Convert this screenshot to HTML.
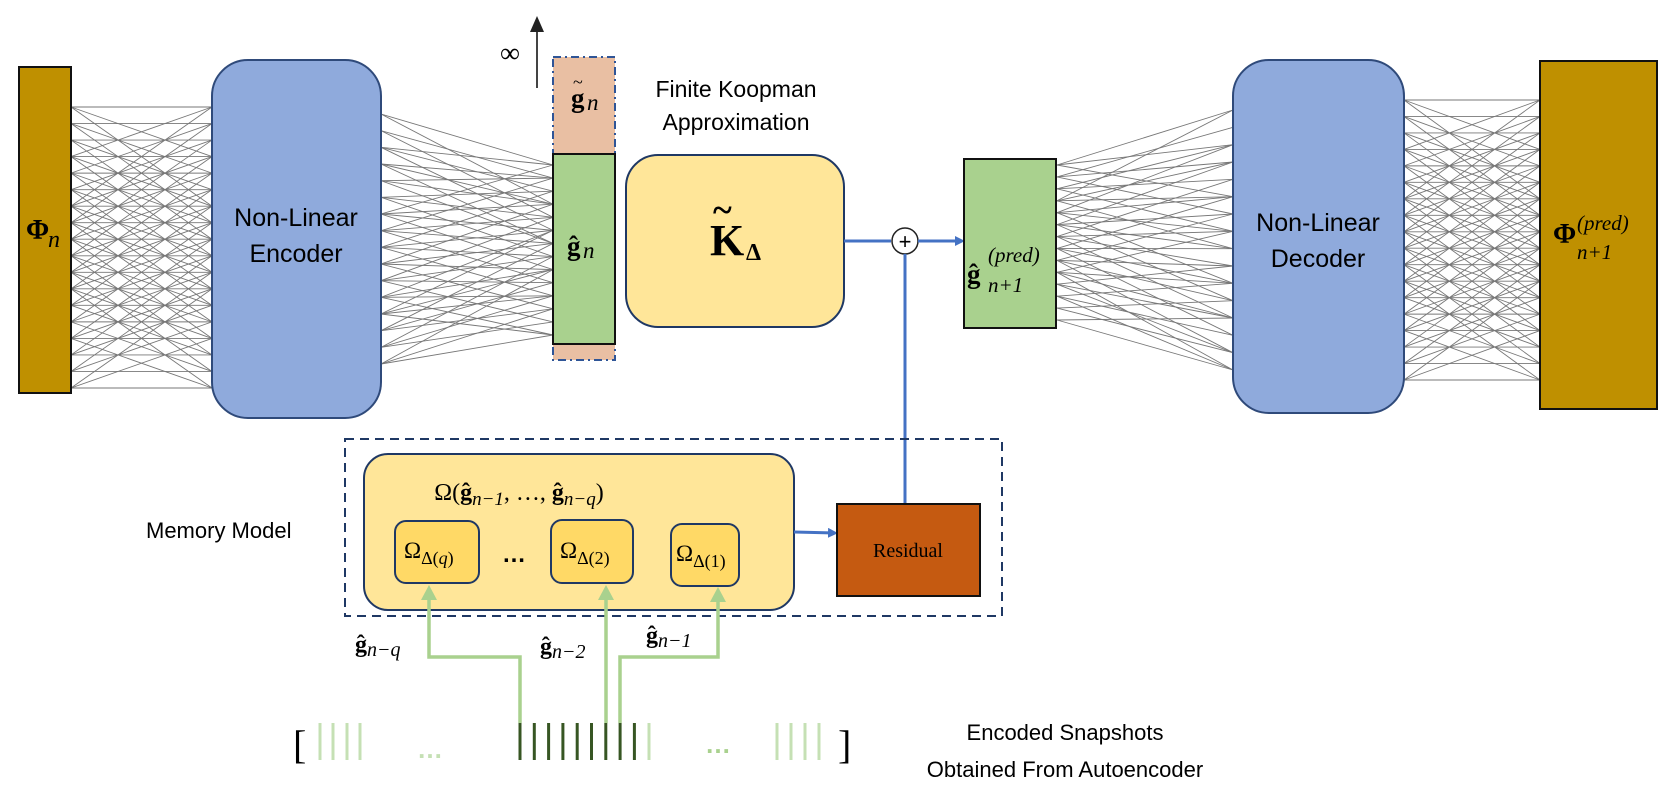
<!DOCTYPE html>
<html><head><meta charset="utf-8"><style>
html,body{margin:0;padding:0;background:#fff;width:1661px;height:798px;overflow:hidden}
svg{display:block}
.s{font-family:"Liberation Sans","DejaVu Sans",sans-serif;fill:#000}
.m{font-family:"Liberation Serif","DejaVu Serif",serif;fill:#000}
.i{font-family:"Liberation Serif","DejaVu Serif",serif;font-style:italic;fill:#000}
.b{font-family:"Liberation Serif","DejaVu Serif",serif;font-weight:bold;fill:#000}
</style></head><body>
<svg id="sv" width="1661" height="798" viewBox="0 0 1661 798" xmlns="http://www.w3.org/2000/svg">
<defs>
<marker id="ab" markerWidth="10" markerHeight="10" refX="7" refY="5" orient="auto" markerUnits="userSpaceOnUse"><path d="M0,0 L10,5 L0,10z" fill="#4472C4"/></marker>
</defs>
<g id="mesh" stroke="#777" stroke-width="0.9"></g>

<!-- Phi_n -->
<rect x="19" y="67" width="52" height="326" fill="#BF9000" stroke="#111" stroke-width="2"/>
<text x="26" y="239" class="b" font-size="28">Φ</text><text x="48" y="247" class="i" font-size="24">n</text>

<!-- Encoder -->
<rect x="212" y="60" width="169" height="358" rx="36" fill="#8FAADC" stroke="#2F4A7A" stroke-width="2"/>
<text x="296" y="226" class="s" font-size="25" text-anchor="middle">Non-Linear</text>
<text x="296" y="262" class="s" font-size="25" text-anchor="middle">Encoder</text>

<!-- infinity column -->
<rect x="553" y="57" width="62" height="303" fill="#E9BFA3" stroke="#2F5597" stroke-width="2" stroke-dasharray="8,4,2,4"/>
<rect x="553" y="154" width="62" height="190" fill="#A9D18E" stroke="#111" stroke-width="2"/>
<line x1="537" y1="88" x2="537" y2="30" stroke="#444" stroke-width="2"/>
<path d="M530,32 L537,16 L544,32z" fill="#222"/>
<text x="500" y="62" class="m" font-size="28">∞</text>
<text x="571" y="107" class="b" font-size="27">g</text><text x="573" y="88" class="m" font-size="18">~</text><text x="587" y="110" class="i" font-size="23">n</text>
<text x="567" y="255" class="b" font-size="27">ĝ</text><text x="583" y="258" class="i" font-size="23">n</text>
<text x="736" y="97" class="s" font-size="23" text-anchor="middle">Finite Koopman</text>
<text x="736" y="130" class="s" font-size="23" text-anchor="middle">Approximation</text>

<!-- K box -->
<rect x="626" y="155" width="218" height="172" rx="32" fill="#FFE699" stroke="#1F3864" stroke-width="2"/>
<text x="710" y="255" class="b" font-size="44">K</text>
<text x="713" y="222" class="b" font-size="36">~</text>
<text x="746" y="260" class="b" font-size="24">Δ</text>

<!-- plus -->
<line x1="844" y1="241" x2="891" y2="241" stroke="#4472C4" stroke-width="3"/>
<circle cx="905" cy="241" r="13" fill="#fff" stroke="#222" stroke-width="1.5"/>
<text x="905" y="249" class="s" font-size="22" text-anchor="middle">+</text>
<line x1="918" y1="241" x2="962" y2="241" stroke="#4472C4" stroke-width="3" marker-end="url(#ab)"/>
<line x1="905" y1="254" x2="905" y2="504" stroke="#4472C4" stroke-width="3"/>

<!-- g pred -->
<rect x="964" y="159" width="92" height="169" fill="#A9D18E" stroke="#111" stroke-width="2"/>
<text x="967" y="283" class="b" font-size="27">ĝ</text>
<text x="988" y="262" class="i" font-size="21">(pred)</text>
<text x="988" y="292" class="i" font-size="21">n+1</text>

<!-- Decoder -->
<rect x="1233" y="60" width="171" height="353" rx="36" fill="#8FAADC" stroke="#2F4A7A" stroke-width="2"/>
<text x="1318" y="231" class="s" font-size="25" text-anchor="middle">Non-Linear</text>
<text x="1318" y="267" class="s" font-size="25" text-anchor="middle">Decoder</text>

<!-- Phi pred -->
<rect x="1540" y="61" width="117" height="348" fill="#BF9000" stroke="#111" stroke-width="2"/>
<text x="1553" y="243" class="b" font-size="28">Φ</text>
<text x="1577" y="230" class="i" font-size="21">(pred)</text>
<text x="1577" y="259" class="i" font-size="21">n+1</text>

<!-- Memory -->
<rect x="345" y="439" width="657" height="177" fill="none" stroke="#1F3864" stroke-width="2" stroke-dasharray="9,6"/>
<text x="146" y="538" class="s" font-size="22">Memory Model</text>
<rect x="364" y="454" width="430" height="156" rx="24" fill="#FFE699" stroke="#1F3864" stroke-width="2"/>
<text x="519" y="500" class="m" font-size="24" text-anchor="middle">Ω(<tspan font-weight="bold">ĝ</tspan><tspan font-style="italic" font-size="19" dy="5">n−1</tspan><tspan dy="-5">, …, </tspan><tspan font-weight="bold">ĝ</tspan><tspan font-style="italic" font-size="19" dy="5">n−q</tspan><tspan dy="-5">)</tspan></text>
<g stroke="#1F3864" stroke-width="2" fill="#FFD966">
<rect x="395" y="521" width="84" height="62" rx="11"/>
<rect x="551" y="520" width="82" height="63" rx="11"/>
<rect x="671" y="524" width="68" height="62" rx="11"/>
</g>
<text x="404" y="558" class="m" font-size="23">Ω<tspan font-size="18" dy="6">Δ(<tspan font-style="italic">q</tspan>)</tspan></text>
<text x="560" y="558" class="m" font-size="23">Ω<tspan font-size="18" dy="6">Δ(2)</tspan></text>
<text x="676" y="561" class="m" font-size="23">Ω<tspan font-size="18" dy="6">Δ(1)</tspan></text>
<text x="514" y="562" class="s" font-size="24" font-weight="bold" text-anchor="middle">…</text>
<line x1="794" y1="532" x2="835" y2="533" stroke="#4472C4" stroke-width="3" marker-end="url(#ab)"/>
<rect x="837" y="504" width="143" height="92" fill="#C55A11" stroke="#111" stroke-width="2"/>
<text x="908" y="557" class="m" font-size="20" text-anchor="middle">Residual</text>

<!-- green arrows -->
<g stroke="#A9D18E" stroke-width="3.5" fill="none">
<polyline points="520,723 520,657 429,657 429,600"/>
<line x1="606" y1="723" x2="606" y2="600"/>
<polyline points="620,723 620,657 718,657 718,602"/>
</g>
<path d="M421,600 L429,585 L437,600z" fill="#A9D18E"/>
<path d="M598,600 L606,585 L614,600z" fill="#A9D18E"/>
<path d="M710,602 L718,587 L726,602z" fill="#A9D18E"/>
<text x="355" y="652" class="m" font-size="24" font-weight="bold">ĝ<tspan font-style="italic" font-weight="normal" font-size="20" dy="4">n−q</tspan></text>
<text x="540" y="654" class="m" font-size="24" font-weight="bold">ĝ<tspan font-style="italic" font-weight="normal" font-size="20" dy="4">n−2</tspan></text>
<text x="646" y="643" class="m" font-size="24" font-weight="bold">ĝ<tspan font-style="italic" font-weight="normal" font-size="20" dy="4">n−1</tspan></text>

<!-- snapshots -->
<text x="293" y="758" class="m" font-size="40">[</text>
<text x="838" y="758" class="m" font-size="40">]</text>
<g id="ticks" stroke-width="3"></g>
<text x="430" y="758" class="s" font-size="26" font-weight="bold" text-anchor="middle" style="fill:#C5E0B4">…</text>
<text x="718" y="753" class="s" font-size="26" font-weight="bold" text-anchor="middle" style="fill:#A9D18E">…</text>
<text x="1065" y="740" class="s" font-size="22" text-anchor="middle">Encoded Snapshots</text>
<text x="1065" y="777" class="s" font-size="22" text-anchor="middle">Obtained From Autoencoder</text>
</svg>
<script>
var NS="http://www.w3.org/2000/svg";
var mesh=document.getElementById("mesh");
function L(x1,y1,x2,y2){var l=document.createElementNS(NS,"line");l.setAttribute("x1",x1);l.setAttribute("y1",y1);l.setAttribute("x2",x2);l.setAttribute("y2",y2);mesh.appendChild(l);}
function M(xa,ya0,ya1,na,xb,yb0,yb1,nb,offs){
 for(var i=0;i<na;i++){var ya=ya0+(ya1-ya0)*i/(na-1);var f=i/(na-1)*(nb-1);
  offs.forEach(function(k){var j=Math.round(f)+k;if(j<0||j>=nb)return;var yb=yb0+(yb1-yb0)*j/(nb-1);L(xa,ya,xb,yb);});}
}
M(71,107,388,18,212,107,388,18,[-6,-3,0,3,6]);
M(381,114,364,16,553,165,335,14,[-5,-2,0,3]);
M(1057,165,320,14,1233,110,370,16,[-3,0,2,5]);
M(1404,100,380,18,1540,100,380,18,[-6,-3,0,3,6]);
var t=document.getElementById("ticks");
function T(x,c){var l=document.createElementNS(NS,"line");l.setAttribute("x1",x);l.setAttribute("x2",x);l.setAttribute("y1",723);l.setAttribute("y2",760);l.setAttribute("stroke",c);t.appendChild(l);}
[320,333,347,360].forEach(function(x){T(x,"#C5E0B4")});
for(var i=0;i<9;i++)T(520+i*14.3,"#375623");
T(649,"#C5E0B4");
[777,791,805,819].forEach(function(x){T(x,"#C5E0B4")});
</script>
</body></html>
